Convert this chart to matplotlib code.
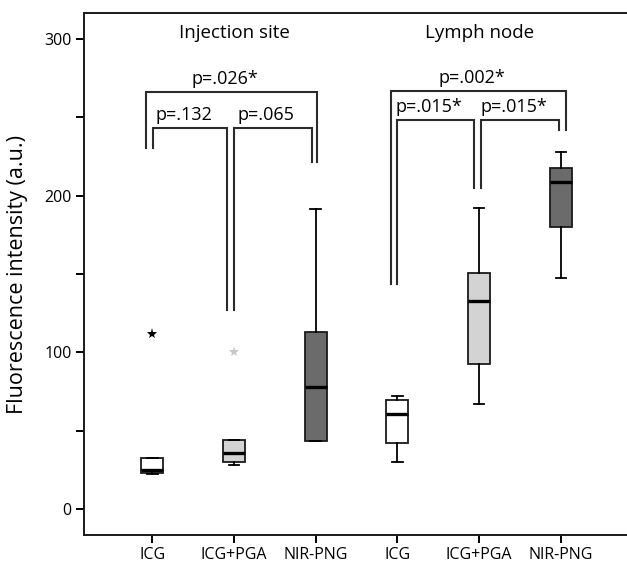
import matplotlib
matplotlib.use('Agg')
import matplotlib.pyplot as plt

plt.rcParams['font.family'] = ['Open Sans', 'DejaVu Sans']

groups = ["Injection site", "Lymph node"]
labels = ["ICG", "ICG+PGA", "NIR-PNG", "ICG", "ICG+PGA", "NIR-PNG"]
whislo = [22.4, 28.1, 43.6, 30.2, 67.0, 147.5]
q1 = [23.2, 30.2, 43.6, 42.0, 92.5, 179.8]
med = [25.0, 35.5, 78.0, 60.7, 132.7, 208.8]
q3 = [32.4, 44.0, 113.1, 69.5, 150.6, 217.4]
whishi = [32.4, 44.0, 191.3, 72.4, 192.0, 227.8]
fliers = [[112.0], [100.0], [], [], [], []]
box_colors = ["white", "#d3d3d3", "#6b6b6b", "white", "#d3d3d3", "#6b6b6b"]
flier_colors = ["black", "#c8c8c8", "black", "black", "black", "black"]

# p-value brackets: (left x, right x, top y, left end y, right end y, text)
brackets = [
    (0.92, 3.01, 266.3, 230.4, 221.6, "p=.026*"),
    (1.01, 1.92, 243.3, 230.4, 127.0, "p=.132"),
    (2.00, 2.95, 243.3, 127.0, 221.6, "p=.065"),
    (3.92, 6.06, 266.9, 143.6, 241.9, "p=.002*"),
    (4.00, 4.94, 248.2, 143.6, 204.9, "p=.015*"),
    (5.02, 5.98, 248.2, 204.9, 241.9, "p=.015*"),
]

fig = plt.figure(figsize=(6.27, 5.66), dpi=100)
ax = fig.add_axes([0.1345, 0.0548, 0.8655, 0.9217])

positions = list(range(1, len(labels) + 1))
stats = []
for i in range(len(labels)):
    stats.append({"whislo": whislo[i], "q1": q1[i], "med": med[i], "q3": q3[i],
                  "whishi": whishi[i], "fliers": []})

bp = ax.bxp(stats, positions=positions, widths=0.27, patch_artist=True,
            showfliers=False,
            boxprops=dict(linewidth=1.3, edgecolor="#1a1a1a"),
            medianprops=dict(linewidth=2.4, color="black"),
            whiskerprops=dict(linewidth=1.3, color="black"),
            capprops=dict(linewidth=1.3, color="black"),
            capwidths=0.13)
for patch, c in zip(bp["boxes"], box_colors):
    patch.set_facecolor(c)

for p, f, c in zip(positions, fliers, flier_colors):
    if f:
        ax.plot([p] * len(f), f, linestyle="none", marker="*", markersize=8,
                color=c, markeredgewidth=0)

for x0, x1, top, ly, ry, txt in brackets:
    ax.plot([x0, x0, x1, x1], [ly, top, top, ry], color="#2b2b2b", lw=1.5,
            solid_joinstyle="miter")
    ax.text((x0 + x1) / 2 - 0.08, top + 2.5, txt, ha="center", va="bottom",
            fontsize=13)

ax.text(2.0, 304, groups[0], ha="center", va="center", fontsize=13.5)
ax.text(5.0, 304, groups[1], ha="center", va="center", fontsize=13.5)

ax.set_xlim(0.168, 6.81)
ax.set_ylim(-16.6, 316.4)
ax.set_xticks(positions)
ax.set_xticklabels(labels, fontsize=11.5)
ax.set_yticks([0, 100, 200, 300])
ax.set_yticks([50, 150, 250], minor=True)
ax.tick_params(axis="y", which="both", length=6, width=1.4, labelsize=11.5, pad=3)
ax.tick_params(axis="x", length=6, width=1.4, pad=3)
ax.set_ylabel("Fluorescence intensity (a.u.)", fontsize=15.5, labelpad=12)

ax.spines["right"].set_visible(False)
for s in ["left", "top", "bottom"]:
    ax.spines[s].set_linewidth(1.4)
    ax.spines[s].set_color("#1a1a1a")

plt.savefig("out.png", dpi=100)
